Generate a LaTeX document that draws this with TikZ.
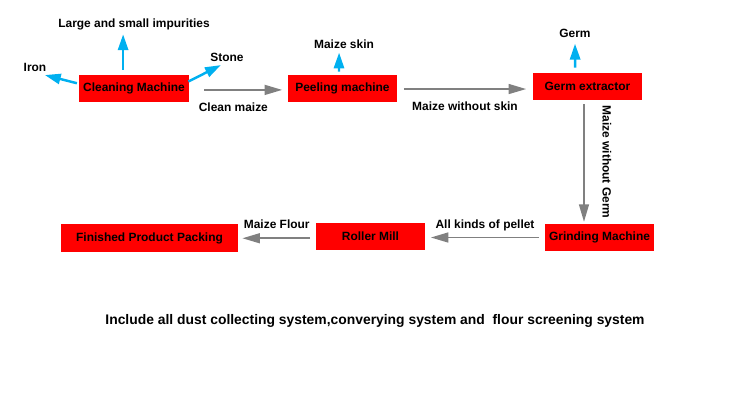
\documentclass[tikz,border=0pt]{standalone}
\usepackage{fontspec}
\setmainfont{Liberation Sans}
\usetikzlibrary{arrows.meta,positioning}
\definecolor{mzred}{RGB}{255,0,0}
\definecolor{mzgray}{RGB}{128,128,128}
\definecolor{mzblue}{RGB}{0,176,240}
\tikzstyle{machine} = [fill=mzred, minimum width=2.2cm, minimum height=0.54cm, inner sep=0pt, font=\fontsize{6.8}{8}\selectfont\bfseries]
\tikzstyle{lbl} = [inner sep=1pt, text=black, font=\fontsize{6.8}{8}\selectfont\bfseries]
\tikzstyle{arrow} = [line width=1.1pt, -{Triangle[length=10pt,width=5.6pt]}, color=mzgray]
\tikzstyle{outarrow} = [line width=1.4pt, -{Triangle[length=9pt,width=5.8pt]}, color=mzblue]

\begin{document}
\begin{tikzpicture}[x=0.02cm, y=-0.02cm]
\useasboundingbox (0,0) rectangle (750,400);

% machines
\node[machine] (clean) at (134,88.5) {Cleaning Machine};
\node[machine] (peel) at (342.5,88.5) {Peeling machine};
\node[machine] (germx) at (587.5,86.5) {Germ extractor};
\node[machine] (grind) at (599.5,237.5) {Grinding Machine};
\node[machine] (roller) at (370.5,236.5) {Roller Mill};
\node[machine, minimum width=3.54cm, minimum height=0.56cm] (pack) at (149.5,238) {Finished Product Packing};

% by-products
\node[lbl] (impur) at (134,24) {Large and small impurities};
\node[lbl] (iron) at (35,67) {Iron};
\node[lbl] (stone) at (227,57) {Stone};
\node[lbl] (skin) at (344,44) {Maize skin};
\node[lbl] (germ) at (575,33) {Germ};

\draw[outarrow] ([xshift=-6.2pt,yshift=2.8pt]clean.north) -- ([xshift=-6.2pt,yshift=-1.5pt]impur.south);
\draw[outarrow] ([xshift=-1pt,yshift=3pt]clean.west) -- ([xshift=-2pt,yshift=-1pt]iron.south east);
\draw[outarrow] ([xshift=-0.5pt,yshift=4pt]clean.east) -- ([xshift=-3.5pt,yshift=-1pt]stone.south);
\draw[outarrow] ([xshift=-2pt,yshift=1.7pt]peel.north) -- ([xshift=-2.8pt,yshift=-1.2pt]skin.south);
\draw[outarrow] ([xshift=-7pt,yshift=2.8pt]germx.north) -- ([yshift=-2.5pt]germ.south);

% main flow
\draw[arrow, shorten <=8.5pt, shorten >=2.8pt] ([yshift=-0.8pt]clean.east) -- ([yshift=-0.8pt]clean.east -| peel.west)
  node[lbl, pos=0.45, below=6pt] {Clean maize};
\draw[arrow, shorten <=3.4pt, shorten >=3.4pt] ([yshift=-0.3pt]peel.east) -- ([yshift=-0.3pt]peel.east -| germx.west)
  node[lbl, midway, below=6pt] {Maize without skin};
\draw[arrow, shorten <=2.3pt, shorten >=1pt] ([xshift=-2pt]germx.south) -- ([xshift=-2pt]germx.south |- grind.north)
  node[lbl, rotate=-90, pos=0.5, right=9pt, anchor=south] {Maize without Germ};
\draw[arrow, shorten <=2.8pt, shorten >=2.8pt] (grind.west) -- (grind.west -| roller.east)
  node[lbl, midway, above=2pt] {All kinds of pellet};
\draw[arrow, shorten <=2.8pt, shorten >=2.3pt] ([yshift=-1pt]roller.west) -- ([yshift=-1pt]roller.west -| pack.east)
  node[lbl, midway, above=4pt] {Maize Flour};

\node[lbl, font=\fontsize{7.9}{9}\selectfont\bfseries] (note) at (375,321) {Include all dust collecting system,converying system and\ \ flour screening system};
\end{tikzpicture}
\end{document}
